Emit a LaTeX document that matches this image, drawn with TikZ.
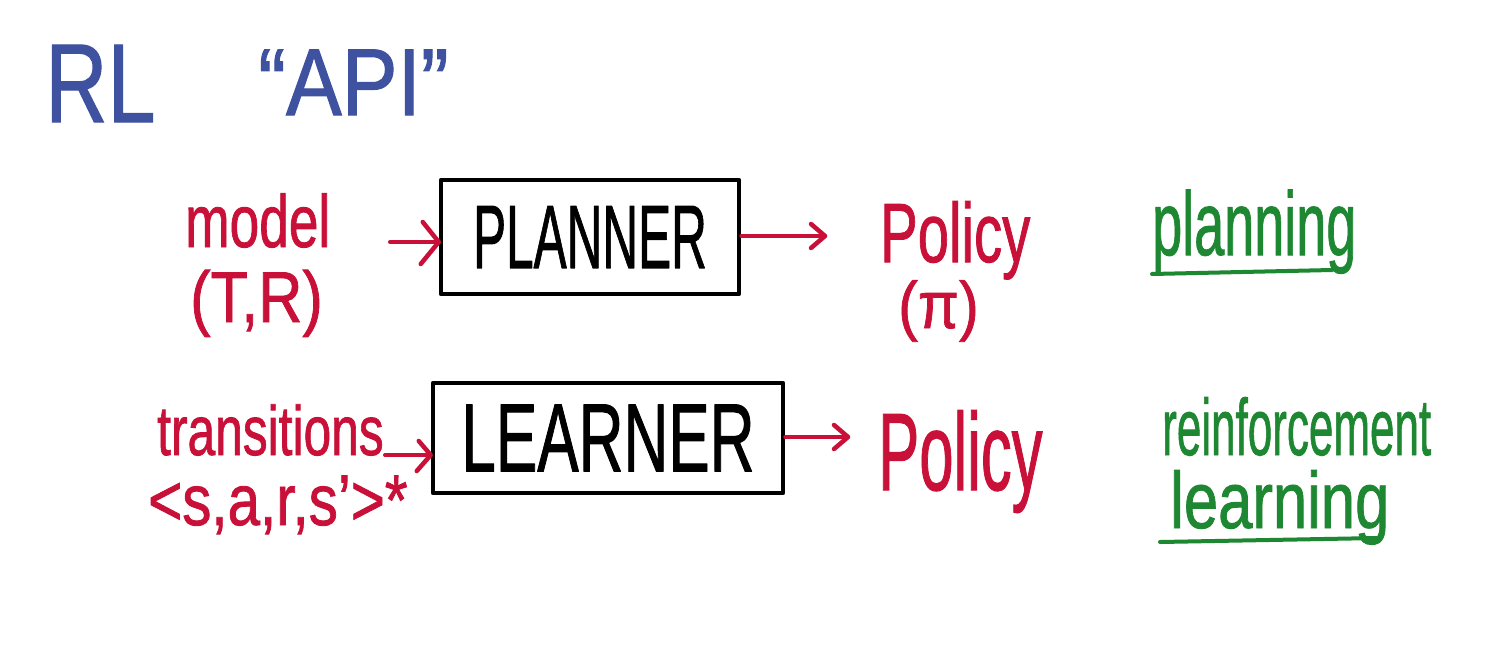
\documentclass[tikz,border=0pt]{standalone}
\usepackage{fontspec}
\setmainfont{Liberation Sans}
\newfontfamily\hand{Liberation Sans}[FakeBold=1.2]
\usetikzlibrary{arrows.meta}
\definecolor{inkblue}{RGB}{62,82,160}
\definecolor{inkred}{RGB}{200,16,56}
\definecolor{inkgreen}{RGB}{30,135,50}
\newcommand{\hw}[3]{\hand\fontsize{#1}{#1}\selectfont\scalebox{#2}[1]{#3}}
\begin{document}
\begin{tikzpicture}[x=1pt,y=-1pt,
  txt/.style={inner sep=0pt, anchor=base west},
  box/.style={draw=black, line width=4.5pt, inner sep=0pt, line join=round},
  conn/.style={draw=inkred, line width=4pt, line cap=round},
  head/.style={draw=inkred, line width=4.5pt, line cap=round, line join=round},
  uline/.style={draw=inkgreen, line width=4pt, line cap=round}]
\fill[white] (0,0) rectangle (1506,656);
\useasboundingbox (0,0) rectangle (1506,656);

% title
\node[txt, text=inkblue] (rl) at (45,122) {\hw{112}{0.77}{RL}};
\node[txt, text=inkblue] (api) at (258,115) {\hw{95}{0.88}{“API”}};

% row 1
\node[txt, text=inkred] (model) at (185,247) {\hw{74}{0.72}{model}};
\node[txt, text=inkred] (tr) at (190,322) {\hw{72}{0.85}{(T,R)}};
\node[box, minimum width=298pt, minimum height=114pt] (planner) at (590,237)
  {\hw{90}{0.55}{PLANNER}};
\node[txt, text=inkred] (pol1) at (880,262) {\hw{84}{0.67}{Policy}};
\node[txt, text=inkred] (pi) at (898,328) {\hw{66}{0.9}{(π)}};
\node[txt, text=inkgreen] (planning) at (1152,255) {\hw{90}{0.6}{planning}};

% row 2
\node[txt, text=inkred] (trans) at (157,455) {\hw{70}{0.71}{transitions}};
\node[txt, text=inkred] (tuple) at (148,525) {\hw{72}{0.81}{<s,a,r,s’>*}};
\node[box, minimum width=350pt, minimum height=110pt] (learner) at (608,438)
  {\hw{97}{0.64}{LEARNER}};
\node[txt, text=inkred] (pol2) at (878,490) {\hw{110}{0.56}{Policy}};
\node[txt, text=inkgreen] (reinf) at (1162,455) {\hw{80}{0.55}{reinforcement}};
\node[txt, text=inkgreen] (learning) at (1170,528) {\hw{80}{0.77}{learning}};

% connectors with hand-drawn open heads
\coordinate (m0) at (390,242);
\draw[conn] (m0) -- (planner.west |- m0);
\draw[head] (planner.west |- m0) ++(-16,-20) -- ++(16,20) -- ++(-18,22);

\coordinate (p1) at (825,236);
\draw[conn] (planner.east |- p1) -- (p1);
\draw[head] (p1) ++(-14,-12) -- ++(14,12) -- ++(-14,12);

\coordinate (t0) at (385,455);
\draw[conn] (t0) -- (learner.west |- t0);
\draw[head] (learner.west |- t0) ++(-12,-14) -- ++(12,14) -- ++(-14,16);

\coordinate (l1) at (848,437);
\draw[conn] (learner.east |- l1) -- (l1);
\draw[head] (l1) ++(-14,-12) -- ++(14,12) -- ++(-14,12);

% underlines
\draw[uline] (1152,274) -- (1332,270);
\draw[uline] (1160,542) -- (1378,538);
\end{tikzpicture}
\end{document}
